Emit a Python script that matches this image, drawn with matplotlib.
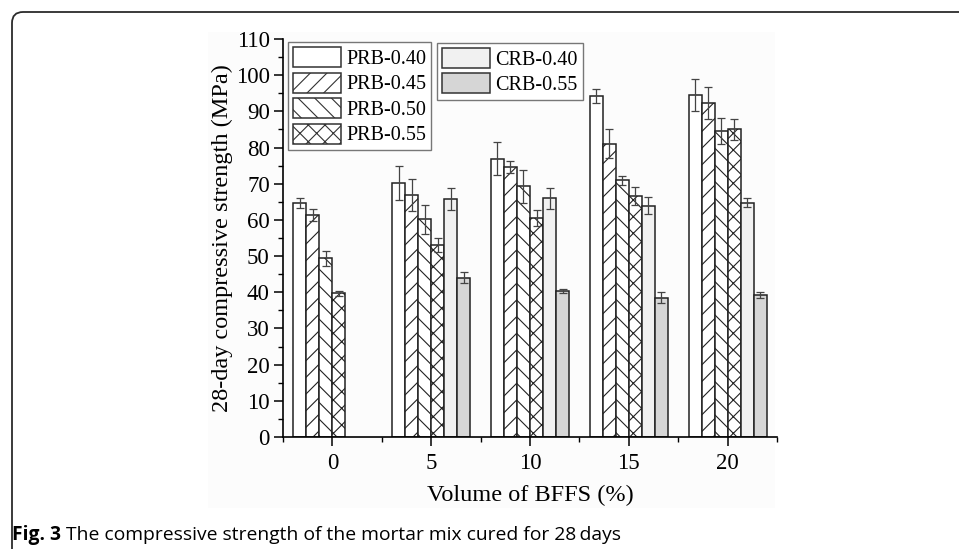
import numpy as np
import matplotlib.pyplot as plt
from matplotlib.patches import FancyBboxPatch, Patch, Rectangle
from matplotlib.ticker import MultipleLocator
from matplotlib.transforms import IdentityTransform

plt.rcParams['font.family'] = ['Liberation Serif', 'DejaVu Serif']
plt.rcParams['hatch.linewidth'] = 0.8
plt.rcParams['hatch.color'] = '#333333'

# BFFS volume (%) and 28-day strength (MPa) for each mix
bffs = np.array([0, 5, 10, 15, 20])
labels = ['PRB-0.40', 'PRB-0.45', 'PRB-0.50', 'PRB-0.55', 'CRB-0.40', 'CRB-0.55']
prb_040 = [64.6, 70.2, 76.9, 94.2, 94.5]
prb_045 = [61.3, 66.8, 74.7, 81.0, 92.3]
prb_050 = [49.4, 60.2, 69.3, 70.9, 84.6]
prb_055 = [39.7, 53.1, 60.5, 66.5, 85.0]
crb_040 = [np.nan, 65.8, 66.0, 63.9, 64.8]
crb_055 = [np.nan, 44.0, 40.4, 38.5, 39.3]
err_prb_040 = [1.4, 4.6, 4.6, 2.0, 4.5]
err_prb_045 = [1.7, 4.4, 1.6, 4.0, 4.3]
err_prb_050 = [2.1, 4.0, 4.5, 1.3, 3.7]
err_prb_055 = [0.7, 1.9, 2.3, 2.5, 3.0]
err_crb_040 = [np.nan, 3.1, 2.9, 2.3, 1.3]
err_crb_055 = [np.nan, 1.5, 0.5, 1.5, 0.9]

series = [prb_040, prb_045, prb_050, prb_055, crb_040, crb_055]
errors = [err_prb_040, err_prb_045, err_prb_050, err_prb_055, err_crb_040, err_crb_055]
fills = ['white', 'white', 'white', 'white', '#f1f1f1', '#d6d6d6']
hatches = [None, '//', '\\\\', 'xx', None, None]

W, H = 959, 549
fig = plt.figure(figsize=(W / 100, H / 100), dpi=100)

# faint backdrop of the chart panel, kept below the axes
fig.patches.append(Rectangle((208, H - 508), 567, 476, transform=IdentityTransform(),
                             facecolor='#fcfcfc', edgecolor='none', zorder=-5))

ax = fig.add_axes([283 / W, 1 - 437 / H, 494 / W, 398 / H])
ax.set_facecolor('none')

w = 0.658
for i, (vals, err) in enumerate(zip(series, errors)):
    x = bffs + (i - 2.5) * w
    ax.bar(x, vals, width=w, color=fills[i], hatch=hatches[i],
           edgecolor='#222222', linewidth=1.1, label=labels[i], zorder=2)
    ax.errorbar(x, vals, yerr=err, fmt='none', ecolor='#444444',
                elinewidth=0.9, capsize=3.2, capthick=0.9, zorder=3)

ax.set_xlim(-2.5, 22.5)
ax.set_ylim(0, 110)
ax.set_xticks(bffs)
ax.xaxis.set_minor_locator(MultipleLocator(2.5))
ax.yaxis.set_major_locator(MultipleLocator(10))
ax.yaxis.set_minor_locator(MultipleLocator(5))
ax.spines['right'].set_visible(False)
ax.spines['top'].set_visible(False)
for s in ('left', 'bottom'):
    ax.spines[s].set_linewidth(1.2)
ax.tick_params(which='major', direction='out', length=6.5, width=1.1, labelsize=16.5, pad=3)
ax.tick_params(which='minor', direction='out', length=3.5, width=1.0)
ax.tick_params(axis='x', pad=5)
ax.set_xlabel('Volume of BFFS (%)', fontsize=17.5, labelpad=8)
ax.set_ylabel('28-day compressive strength (MPa)', fontsize=17.5, labelpad=2)

handles = [Patch(facecolor=fills[i], hatch=hatches[i], edgecolor='#333333',
                 linewidth=1.1, label=labels[i]) for i in range(6)]
leg_kw = dict(fontsize=14.5, handlelength=2.4, handleheight=1.15, labelspacing=0.18,
              handletextpad=0.25, borderpad=0.25, borderaxespad=0, fancybox=False,
              edgecolor='#777777', facecolor='white', framealpha=1, loc='upper left')
leg1 = ax.legend(handles=handles[:4], bbox_to_anchor=(0.01, 0.992), **leg_kw)
leg1.get_frame().set_linewidth(1.0)
ax.add_artist(leg1)
leg2 = ax.legend(handles=handles[4:], bbox_to_anchor=(0.312, 0.99), **leg_kw)
leg2.get_frame().set_linewidth(1.0)

# rounded page frame (top and left edges only fall inside the canvas)
frame = FancyBboxPatch((12, -40), 1000, H + 28, boxstyle='round,pad=0,rounding_size=11',
                       transform=IdentityTransform(), facecolor='none',
                       edgecolor='#2b2b2b', linewidth=1.3, zorder=5)
fig.patches.append(frame)

cap_font = ['Open Sans', 'DejaVu Sans']
t1 = fig.text(12 / W, 1 - 535 / H, 'Fig. 3', fontsize=13.9, fontweight='bold',
              family=cap_font, va='center', ha='left')
fig.canvas.draw()
bb = t1.get_window_extent()
fig.text((bb.x1 + 5) / W, 1 - 535 / H,
         'The compressive strength of the mortar mix cured for 28\u2009days',
         fontsize=13.9, family=cap_font, va='center', ha='left')

fig.savefig('out.png', dpi=100)
